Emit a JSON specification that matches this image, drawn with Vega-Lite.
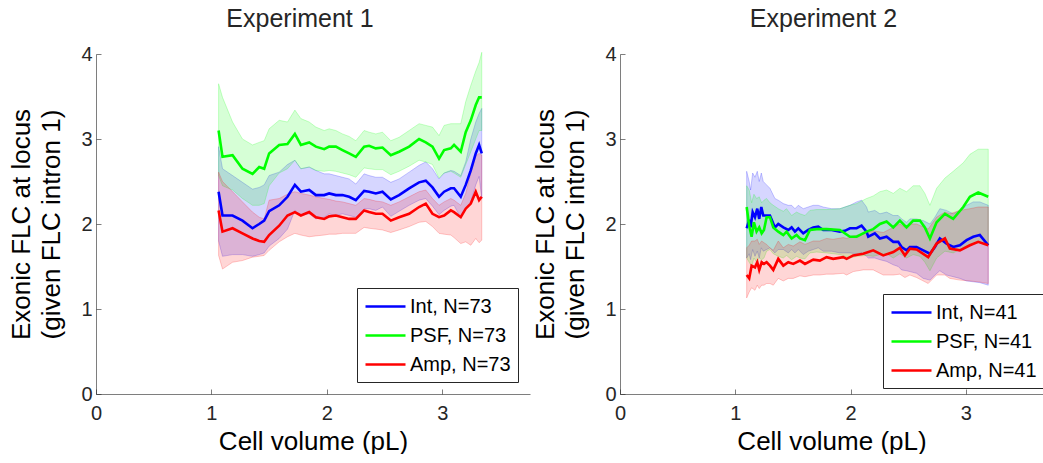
{
  "$schema": "https://vega.github.io/schema/vega-lite/v6.json",
  "padding": {"left": 8, "top": 7, "right": 0, "bottom": 0},
  "spacing": 2,
  "datasets": {
    "e1": [
      {"s":"Int, N=73","x":1.062,"y":2.38,"lo":1.80,"hi":2.91},
      {"s":"Int, N=73","x":1.096,"y":2.10,"lo":1.62,"hi":2.65},
      {"s":"Int, N=73","x":1.183,"y":2.10,"lo":1.64,"hi":2.57},
      {"s":"Int, N=73","x":1.269,"y":2.04,"lo":1.64,"hi":2.49},
      {"s":"Int, N=73","x":1.356,"y":1.95,"lo":1.62,"hi":2.41},
      {"s":"Int, N=73","x":1.414,"y":2.00,"lo":1.64,"hi":2.43},
      {"s":"Int, N=73","x":1.457,"y":2.04,"lo":1.66,"hi":2.46},
      {"s":"Int, N=73","x":1.500,"y":2.15,"lo":1.74,"hi":2.57},
      {"s":"Int, N=73","x":1.587,"y":2.22,"lo":1.83,"hi":2.61},
      {"s":"Int, N=73","x":1.659,"y":2.32,"lo":1.94,"hi":2.70},
      {"s":"Int, N=73","x":1.723,"y":2.46,"lo":2.16,"hi":2.75},
      {"s":"Int, N=73","x":1.775,"y":2.38,"lo":2.10,"hi":2.65},
      {"s":"Int, N=73","x":1.847,"y":2.40,"lo":2.12,"hi":2.67},
      {"s":"Int, N=73","x":1.905,"y":2.34,"lo":2.06,"hi":2.63},
      {"s":"Int, N=73","x":1.977,"y":2.34,"lo":2.08,"hi":2.59},
      {"s":"Int, N=73","x":2.020,"y":2.36,"lo":2.12,"hi":2.59},
      {"s":"Int, N=73","x":2.078,"y":2.34,"lo":2.10,"hi":2.57},
      {"s":"Int, N=73","x":2.135,"y":2.34,"lo":2.12,"hi":2.55},
      {"s":"Int, N=73","x":2.193,"y":2.32,"lo":2.10,"hi":2.53},
      {"s":"Int, N=73","x":2.251,"y":2.28,"lo":2.08,"hi":2.47},
      {"s":"Int, N=73","x":2.323,"y":2.39,"lo":2.18,"hi":2.59},
      {"s":"Int, N=73","x":2.366,"y":2.38,"lo":2.18,"hi":2.57},
      {"s":"Int, N=73","x":2.424,"y":2.36,"lo":2.16,"hi":2.55},
      {"s":"Int, N=73","x":2.482,"y":2.38,"lo":2.20,"hi":2.55},
      {"s":"Int, N=73","x":2.554,"y":2.29,"lo":2.09,"hi":2.49},
      {"s":"Int, N=73","x":2.626,"y":2.34,"lo":2.15,"hi":2.53},
      {"s":"Int, N=73","x":2.713,"y":2.42,"lo":2.22,"hi":2.61},
      {"s":"Int, N=73","x":2.799,"y":2.49,"lo":2.28,"hi":2.69},
      {"s":"Int, N=73","x":2.857,"y":2.51,"lo":2.30,"hi":2.73},
      {"s":"Int, N=73","x":2.915,"y":2.43,"lo":2.21,"hi":2.65},
      {"s":"Int, N=73","x":2.972,"y":2.32,"lo":2.11,"hi":2.53},
      {"s":"Int, N=73","x":3.016,"y":2.38,"lo":2.16,"hi":2.60},
      {"s":"Int, N=73","x":3.074,"y":2.42,"lo":2.21,"hi":2.63},
      {"s":"Int, N=73","x":3.102,"y":2.42,"lo":2.22,"hi":2.62},
      {"s":"Int, N=73","x":3.160,"y":2.32,"lo":2.07,"hi":2.57},
      {"s":"Int, N=73","x":3.203,"y":2.46,"lo":2.18,"hi":2.73},
      {"s":"Int, N=73","x":3.247,"y":2.63,"lo":2.26,"hi":3.00},
      {"s":"Int, N=73","x":3.290,"y":2.83,"lo":2.46,"hi":3.20},
      {"s":"Int, N=73","x":3.319,"y":2.93,"lo":2.56,"hi":3.30},
      {"s":"Int, N=73","x":3.342,"y":2.83,"lo":2.30,"hi":3.36},
      {"s":"PSF, N=73","x":1.062,"y":3.10,"lo":2.57,"hi":3.65},
      {"s":"PSF, N=73","x":1.096,"y":2.79,"lo":2.45,"hi":3.49},
      {"s":"PSF, N=73","x":1.183,"y":2.81,"lo":2.40,"hi":3.20},
      {"s":"PSF, N=73","x":1.269,"y":2.65,"lo":2.30,"hi":3.00},
      {"s":"PSF, N=73","x":1.356,"y":2.59,"lo":2.22,"hi":2.93},
      {"s":"PSF, N=73","x":1.414,"y":2.67,"lo":2.22,"hi":2.96},
      {"s":"PSF, N=73","x":1.457,"y":2.65,"lo":2.24,"hi":2.98},
      {"s":"PSF, N=73","x":1.500,"y":2.83,"lo":2.45,"hi":3.12},
      {"s":"PSF, N=73","x":1.587,"y":2.93,"lo":2.60,"hi":3.22},
      {"s":"PSF, N=73","x":1.659,"y":2.94,"lo":2.65,"hi":3.20},
      {"s":"PSF, N=73","x":1.723,"y":3.06,"lo":2.75,"hi":3.34},
      {"s":"PSF, N=73","x":1.775,"y":2.93,"lo":2.65,"hi":3.24},
      {"s":"PSF, N=73","x":1.847,"y":2.96,"lo":2.67,"hi":3.20},
      {"s":"PSF, N=73","x":1.905,"y":2.91,"lo":2.63,"hi":3.14},
      {"s":"PSF, N=73","x":1.977,"y":2.88,"lo":2.62,"hi":3.10},
      {"s":"PSF, N=73","x":2.020,"y":2.91,"lo":2.63,"hi":3.12},
      {"s":"PSF, N=73","x":2.078,"y":2.91,"lo":2.62,"hi":3.10},
      {"s":"PSF, N=73","x":2.135,"y":2.87,"lo":2.60,"hi":3.06},
      {"s":"PSF, N=73","x":2.193,"y":2.83,"lo":2.58,"hi":3.03},
      {"s":"PSF, N=73","x":2.251,"y":2.79,"lo":2.55,"hi":2.98},
      {"s":"PSF, N=73","x":2.323,"y":2.91,"lo":2.66,"hi":3.10},
      {"s":"PSF, N=73","x":2.366,"y":2.92,"lo":2.65,"hi":3.08},
      {"s":"PSF, N=73","x":2.424,"y":2.89,"lo":2.64,"hi":3.06},
      {"s":"PSF, N=73","x":2.482,"y":2.90,"lo":2.64,"hi":3.08},
      {"s":"PSF, N=73","x":2.554,"y":2.81,"lo":2.58,"hi":2.98},
      {"s":"PSF, N=73","x":2.626,"y":2.85,"lo":2.62,"hi":3.02},
      {"s":"PSF, N=73","x":2.713,"y":2.91,"lo":2.68,"hi":3.10},
      {"s":"PSF, N=73","x":2.799,"y":3.00,"lo":2.75,"hi":3.18},
      {"s":"PSF, N=73","x":2.857,"y":2.96,"lo":2.73,"hi":3.16},
      {"s":"PSF, N=73","x":2.915,"y":2.91,"lo":2.70,"hi":3.14},
      {"s":"PSF, N=73","x":2.972,"y":2.77,"lo":2.54,"hi":3.04},
      {"s":"PSF, N=73","x":3.016,"y":2.87,"lo":2.60,"hi":3.16},
      {"s":"PSF, N=73","x":3.074,"y":2.89,"lo":2.62,"hi":3.18},
      {"s":"PSF, N=73","x":3.102,"y":2.93,"lo":2.60,"hi":3.18},
      {"s":"PSF, N=73","x":3.160,"y":2.85,"lo":2.55,"hi":3.18},
      {"s":"PSF, N=73","x":3.203,"y":3.08,"lo":2.70,"hi":3.44},
      {"s":"PSF, N=73","x":3.247,"y":3.22,"lo":2.85,"hi":3.63},
      {"s":"PSF, N=73","x":3.290,"y":3.40,"lo":3.00,"hi":3.80},
      {"s":"PSF, N=73","x":3.319,"y":3.49,"lo":3.10,"hi":3.90},
      {"s":"PSF, N=73","x":3.342,"y":3.49,"lo":3.10,"hi":4.02},
      {"s":"Amp, N=73","x":1.062,"y":2.16,"lo":1.63,"hi":2.61},
      {"s":"Amp, N=73","x":1.096,"y":1.91,"lo":1.47,"hi":2.50},
      {"s":"Amp, N=73","x":1.183,"y":1.95,"lo":1.55,"hi":2.38},
      {"s":"Amp, N=73","x":1.269,"y":1.89,"lo":1.57,"hi":2.26},
      {"s":"Amp, N=73","x":1.356,"y":1.83,"lo":1.61,"hi":2.14},
      {"s":"Amp, N=73","x":1.414,"y":1.80,"lo":1.62,"hi":2.08},
      {"s":"Amp, N=73","x":1.457,"y":1.79,"lo":1.63,"hi":2.06},
      {"s":"Amp, N=73","x":1.500,"y":1.87,"lo":1.69,"hi":2.28},
      {"s":"Amp, N=73","x":1.587,"y":1.98,"lo":1.79,"hi":2.30},
      {"s":"Amp, N=73","x":1.659,"y":2.10,"lo":1.85,"hi":2.35},
      {"s":"Amp, N=73","x":1.723,"y":2.14,"lo":1.89,"hi":2.38},
      {"s":"Amp, N=73","x":1.775,"y":2.10,"lo":1.87,"hi":2.36},
      {"s":"Amp, N=73","x":1.847,"y":2.14,"lo":1.85,"hi":2.34},
      {"s":"Amp, N=73","x":1.905,"y":2.08,"lo":1.86,"hi":2.32},
      {"s":"Amp, N=73","x":1.977,"y":2.06,"lo":1.87,"hi":2.30},
      {"s":"Amp, N=73","x":2.020,"y":2.09,"lo":1.88,"hi":2.29},
      {"s":"Amp, N=73","x":2.078,"y":2.10,"lo":1.88,"hi":2.27},
      {"s":"Amp, N=73","x":2.135,"y":2.08,"lo":1.89,"hi":2.26},
      {"s":"Amp, N=73","x":2.193,"y":2.06,"lo":1.89,"hi":2.24},
      {"s":"Amp, N=73","x":2.251,"y":2.06,"lo":1.89,"hi":2.22},
      {"s":"Amp, N=73","x":2.323,"y":2.16,"lo":1.96,"hi":2.30},
      {"s":"Amp, N=73","x":2.366,"y":2.14,"lo":1.95,"hi":2.29},
      {"s":"Amp, N=73","x":2.424,"y":2.12,"lo":1.94,"hi":2.27},
      {"s":"Amp, N=73","x":2.482,"y":2.12,"lo":1.93,"hi":2.26},
      {"s":"Amp, N=73","x":2.554,"y":2.04,"lo":1.90,"hi":2.22},
      {"s":"Amp, N=73","x":2.626,"y":2.08,"lo":1.93,"hi":2.26},
      {"s":"Amp, N=73","x":2.713,"y":2.12,"lo":1.97,"hi":2.32},
      {"s":"Amp, N=73","x":2.799,"y":2.20,"lo":2.02,"hi":2.38},
      {"s":"Amp, N=73","x":2.857,"y":2.24,"lo":2.03,"hi":2.40},
      {"s":"Amp, N=73","x":2.915,"y":2.12,"lo":1.97,"hi":2.30},
      {"s":"Amp, N=73","x":2.972,"y":2.08,"lo":1.89,"hi":2.22},
      {"s":"Amp, N=73","x":3.016,"y":2.10,"lo":1.88,"hi":2.26},
      {"s":"Amp, N=73","x":3.074,"y":2.16,"lo":1.87,"hi":2.30},
      {"s":"Amp, N=73","x":3.102,"y":2.14,"lo":1.84,"hi":2.28},
      {"s":"Amp, N=73","x":3.160,"y":2.08,"lo":1.77,"hi":2.22},
      {"s":"Amp, N=73","x":3.203,"y":2.18,"lo":1.79,"hi":2.36},
      {"s":"Amp, N=73","x":3.247,"y":2.24,"lo":1.75,"hi":2.60},
      {"s":"Amp, N=73","x":3.290,"y":2.38,"lo":1.83,"hi":2.80},
      {"s":"Amp, N=73","x":3.319,"y":2.28,"lo":1.78,"hi":2.83},
      {"s":"Amp, N=73","x":3.342,"y":2.32,"lo":1.81,"hi":2.81}
    ],
    "e2": [
      {"s":"Int, N=41","x":1.099,"y":1.95,"lo":1.60,"hi":2.62},
      {"s":"Int, N=41","x":1.121,"y":2.05,"lo":1.65,"hi":2.50},
      {"s":"Int, N=41","x":1.133,"y":1.96,"lo":1.58,"hi":2.40},
      {"s":"Int, N=41","x":1.151,"y":2.14,"lo":1.70,"hi":2.60},
      {"s":"Int, N=41","x":1.171,"y":2.08,"lo":1.62,"hi":2.55},
      {"s":"Int, N=41","x":1.191,"y":2.18,"lo":1.68,"hi":2.62},
      {"s":"Int, N=41","x":1.208,"y":2.06,"lo":1.60,"hi":2.50},
      {"s":"Int, N=41","x":1.226,"y":2.20,"lo":1.72,"hi":2.60},
      {"s":"Int, N=41","x":1.243,"y":2.10,"lo":1.68,"hi":2.50},
      {"s":"Int, N=41","x":1.272,"y":2.10,"lo":1.70,"hi":2.46},
      {"s":"Int, N=41","x":1.301,"y":2.10,"lo":1.72,"hi":2.42},
      {"s":"Int, N=41","x":1.344,"y":1.96,"lo":1.66,"hi":2.30},
      {"s":"Int, N=41","x":1.373,"y":2.00,"lo":1.70,"hi":2.28},
      {"s":"Int, N=41","x":1.417,"y":1.96,"lo":1.70,"hi":2.24},
      {"s":"Int, N=41","x":1.460,"y":1.93,"lo":1.66,"hi":2.22},
      {"s":"Int, N=41","x":1.489,"y":1.96,"lo":1.70,"hi":2.22},
      {"s":"Int, N=41","x":1.518,"y":1.91,"lo":1.66,"hi":2.18},
      {"s":"Int, N=41","x":1.547,"y":1.95,"lo":1.70,"hi":2.22},
      {"s":"Int, N=41","x":1.590,"y":1.89,"lo":1.64,"hi":2.18},
      {"s":"Int, N=41","x":1.633,"y":1.93,"lo":1.68,"hi":2.20},
      {"s":"Int, N=41","x":1.677,"y":1.96,"lo":1.70,"hi":2.22},
      {"s":"Int, N=41","x":1.720,"y":1.97,"lo":1.72,"hi":2.22},
      {"s":"Int, N=41","x":1.763,"y":1.93,"lo":1.68,"hi":2.20},
      {"s":"Int, N=41","x":1.836,"y":1.93,"lo":1.68,"hi":2.18},
      {"s":"Int, N=41","x":1.908,"y":1.91,"lo":1.66,"hi":2.18},
      {"s":"Int, N=41","x":1.951,"y":1.92,"lo":1.66,"hi":2.20},
      {"s":"Int, N=41","x":1.995,"y":1.95,"lo":1.66,"hi":2.22},
      {"s":"Int, N=41","x":2.053,"y":1.95,"lo":1.65,"hi":2.26},
      {"s":"Int, N=41","x":2.096,"y":1.98,"lo":1.66,"hi":2.28},
      {"s":"Int, N=41","x":2.139,"y":1.91,"lo":1.62,"hi":2.20},
      {"s":"Int, N=41","x":2.154,"y":1.85,"lo":1.60,"hi":2.14},
      {"s":"Int, N=41","x":2.211,"y":1.89,"lo":1.60,"hi":2.16},
      {"s":"Int, N=41","x":2.255,"y":1.83,"lo":1.58,"hi":2.12},
      {"s":"Int, N=41","x":2.313,"y":1.85,"lo":1.56,"hi":2.14},
      {"s":"Int, N=41","x":2.371,"y":1.79,"lo":1.52,"hi":2.10},
      {"s":"Int, N=41","x":2.414,"y":1.79,"lo":1.50,"hi":2.10},
      {"s":"Int, N=41","x":2.443,"y":1.73,"lo":1.46,"hi":2.06},
      {"s":"Int, N=41","x":2.486,"y":1.69,"lo":1.45,"hi":2.02},
      {"s":"Int, N=41","x":2.515,"y":1.73,"lo":1.44,"hi":2.06},
      {"s":"Int, N=41","x":2.573,"y":1.73,"lo":1.42,"hi":2.06},
      {"s":"Int, N=41","x":2.631,"y":1.69,"lo":1.36,"hi":2.04},
      {"s":"Int, N=41","x":2.689,"y":1.65,"lo":1.34,"hi":2.00},
      {"s":"Int, N=41","x":2.732,"y":1.73,"lo":1.40,"hi":2.08},
      {"s":"Int, N=41","x":2.775,"y":1.83,"lo":1.45,"hi":2.18},
      {"s":"Int, N=41","x":2.833,"y":1.77,"lo":1.40,"hi":2.16},
      {"s":"Int, N=41","x":2.891,"y":1.73,"lo":1.38,"hi":2.12},
      {"s":"Int, N=41","x":2.949,"y":1.75,"lo":1.36,"hi":2.16},
      {"s":"Int, N=41","x":3.007,"y":1.81,"lo":1.33,"hi":2.22},
      {"s":"Int, N=41","x":3.065,"y":1.85,"lo":1.32,"hi":2.26},
      {"s":"Int, N=41","x":3.122,"y":1.87,"lo":1.31,"hi":2.26},
      {"s":"Int, N=41","x":3.195,"y":1.75,"lo":1.28,"hi":2.22},
      {"s":"PSF, N=41","x":1.099,"y":2.20,"lo":1.60,"hi":2.45},
      {"s":"PSF, N=41","x":1.121,"y":1.98,"lo":1.55,"hi":2.40},
      {"s":"PSF, N=41","x":1.142,"y":1.85,"lo":1.50,"hi":2.25},
      {"s":"PSF, N=41","x":1.162,"y":2.02,"lo":1.60,"hi":2.35},
      {"s":"PSF, N=41","x":1.185,"y":1.91,"lo":1.55,"hi":2.30},
      {"s":"PSF, N=41","x":1.208,"y":1.96,"lo":1.60,"hi":2.32},
      {"s":"PSF, N=41","x":1.229,"y":1.89,"lo":1.58,"hi":2.25},
      {"s":"PSF, N=41","x":1.249,"y":1.93,"lo":1.60,"hi":2.28},
      {"s":"PSF, N=41","x":1.272,"y":2.08,"lo":1.68,"hi":2.30},
      {"s":"PSF, N=41","x":1.301,"y":2.08,"lo":1.70,"hi":2.25},
      {"s":"PSF, N=41","x":1.330,"y":1.96,"lo":1.65,"hi":2.22},
      {"s":"PSF, N=41","x":1.373,"y":1.91,"lo":1.62,"hi":2.18},
      {"s":"PSF, N=41","x":1.417,"y":1.87,"lo":1.60,"hi":2.15},
      {"s":"PSF, N=41","x":1.445,"y":1.91,"lo":1.63,"hi":2.18},
      {"s":"PSF, N=41","x":1.489,"y":1.83,"lo":1.58,"hi":2.10},
      {"s":"PSF, N=41","x":1.532,"y":1.87,"lo":1.62,"hi":2.14},
      {"s":"PSF, N=41","x":1.561,"y":1.83,"lo":1.60,"hi":2.12},
      {"s":"PSF, N=41","x":1.605,"y":1.81,"lo":1.59,"hi":2.10},
      {"s":"PSF, N=41","x":1.648,"y":1.93,"lo":1.66,"hi":2.16},
      {"s":"PSF, N=41","x":1.706,"y":1.94,"lo":1.67,"hi":2.17},
      {"s":"PSF, N=41","x":1.792,"y":1.94,"lo":1.66,"hi":2.17},
      {"s":"PSF, N=41","x":1.908,"y":1.93,"lo":1.64,"hi":2.18},
      {"s":"PSF, N=41","x":1.995,"y":1.85,"lo":1.60,"hi":2.22},
      {"s":"PSF, N=41","x":2.053,"y":1.85,"lo":1.62,"hi":2.24},
      {"s":"PSF, N=41","x":2.139,"y":1.91,"lo":1.63,"hi":2.30},
      {"s":"PSF, N=41","x":2.197,"y":1.94,"lo":1.62,"hi":2.33},
      {"s":"PSF, N=41","x":2.255,"y":2.00,"lo":1.64,"hi":2.38},
      {"s":"PSF, N=41","x":2.313,"y":2.03,"lo":1.65,"hi":2.40},
      {"s":"PSF, N=41","x":2.371,"y":1.96,"lo":1.60,"hi":2.36},
      {"s":"PSF, N=41","x":2.428,"y":2.04,"lo":1.65,"hi":2.42},
      {"s":"PSF, N=41","x":2.486,"y":1.96,"lo":1.60,"hi":2.38},
      {"s":"PSF, N=41","x":2.544,"y":2.04,"lo":1.64,"hi":2.45},
      {"s":"PSF, N=41","x":2.602,"y":2.04,"lo":1.62,"hi":2.45},
      {"s":"PSF, N=41","x":2.645,"y":1.96,"lo":1.55,"hi":2.36},
      {"s":"PSF, N=41","x":2.689,"y":1.83,"lo":1.45,"hi":2.22},
      {"s":"PSF, N=41","x":2.747,"y":2.02,"lo":1.60,"hi":2.42},
      {"s":"PSF, N=41","x":2.819,"y":2.12,"lo":1.68,"hi":2.54},
      {"s":"PSF, N=41","x":2.891,"y":2.06,"lo":1.66,"hi":2.62},
      {"s":"PSF, N=41","x":2.978,"y":2.20,"lo":1.72,"hi":2.72},
      {"s":"PSF, N=41","x":3.036,"y":2.32,"lo":1.76,"hi":2.82},
      {"s":"PSF, N=41","x":3.108,"y":2.37,"lo":1.78,"hi":2.88},
      {"s":"PSF, N=41","x":3.195,"y":2.32,"lo":1.76,"hi":2.88},
      {"s":"Amp, N=41","x":1.099,"y":1.40,"lo":1.13,"hi":1.72},
      {"s":"Amp, N=41","x":1.121,"y":1.36,"lo":1.20,"hi":1.75},
      {"s":"Amp, N=41","x":1.142,"y":1.51,"lo":1.25,"hi":1.80},
      {"s":"Amp, N=41","x":1.171,"y":1.49,"lo":1.22,"hi":1.80},
      {"s":"Amp, N=41","x":1.191,"y":1.55,"lo":1.28,"hi":1.82},
      {"s":"Amp, N=41","x":1.208,"y":1.46,"lo":1.24,"hi":1.76},
      {"s":"Amp, N=41","x":1.229,"y":1.55,"lo":1.28,"hi":1.80},
      {"s":"Amp, N=41","x":1.249,"y":1.53,"lo":1.28,"hi":1.78},
      {"s":"Amp, N=41","x":1.272,"y":1.55,"lo":1.30,"hi":1.76},
      {"s":"Amp, N=41","x":1.301,"y":1.51,"lo":1.30,"hi":1.72},
      {"s":"Amp, N=41","x":1.330,"y":1.46,"lo":1.28,"hi":1.69},
      {"s":"Amp, N=41","x":1.373,"y":1.59,"lo":1.36,"hi":1.80},
      {"s":"Amp, N=41","x":1.417,"y":1.51,"lo":1.33,"hi":1.72},
      {"s":"Amp, N=41","x":1.460,"y":1.55,"lo":1.36,"hi":1.76},
      {"s":"Amp, N=41","x":1.503,"y":1.53,"lo":1.36,"hi":1.74},
      {"s":"Amp, N=41","x":1.561,"y":1.57,"lo":1.39,"hi":1.79},
      {"s":"Amp, N=41","x":1.605,"y":1.53,"lo":1.38,"hi":1.76},
      {"s":"Amp, N=41","x":1.677,"y":1.58,"lo":1.40,"hi":1.80},
      {"s":"Amp, N=41","x":1.734,"y":1.57,"lo":1.40,"hi":1.80},
      {"s":"Amp, N=41","x":1.792,"y":1.61,"lo":1.41,"hi":1.83},
      {"s":"Amp, N=41","x":1.850,"y":1.59,"lo":1.41,"hi":1.82},
      {"s":"Amp, N=41","x":1.937,"y":1.61,"lo":1.42,"hi":1.84},
      {"s":"Amp, N=41","x":1.966,"y":1.59,"lo":1.40,"hi":1.83},
      {"s":"Amp, N=41","x":2.024,"y":1.63,"lo":1.44,"hi":1.86},
      {"s":"Amp, N=41","x":2.110,"y":1.65,"lo":1.46,"hi":1.88},
      {"s":"Amp, N=41","x":2.197,"y":1.69,"lo":1.46,"hi":1.92},
      {"s":"Amp, N=41","x":2.284,"y":1.63,"lo":1.40,"hi":1.90},
      {"s":"Amp, N=41","x":2.371,"y":1.67,"lo":1.40,"hi":1.96},
      {"s":"Amp, N=41","x":2.428,"y":1.72,"lo":1.41,"hi":2.00},
      {"s":"Amp, N=41","x":2.472,"y":1.63,"lo":1.37,"hi":1.96},
      {"s":"Amp, N=41","x":2.515,"y":1.71,"lo":1.40,"hi":2.00},
      {"s":"Amp, N=41","x":2.573,"y":1.70,"lo":1.37,"hi":2.00},
      {"s":"Amp, N=41","x":2.674,"y":1.61,"lo":1.30,"hi":1.94},
      {"s":"Amp, N=41","x":2.747,"y":1.77,"lo":1.40,"hi":2.08},
      {"s":"Amp, N=41","x":2.819,"y":1.83,"lo":1.40,"hi":2.14},
      {"s":"Amp, N=41","x":2.862,"y":1.71,"lo":1.36,"hi":2.12},
      {"s":"Amp, N=41","x":2.949,"y":1.69,"lo":1.34,"hi":2.16},
      {"s":"Amp, N=41","x":3.036,"y":1.75,"lo":1.33,"hi":2.18},
      {"s":"Amp, N=41","x":3.108,"y":1.79,"lo":1.32,"hi":2.20},
      {"s":"Amp, N=41","x":3.195,"y":1.75,"lo":1.30,"hi":2.20}
    ]
  },
  "hconcat": [
    {
      "width": 434,
      "height": 340,
      "title": {"text": "Experiment 1", "dx": -13},
      "data": {"name": "e1"},
      "layer": [
        {
          "mark": {"type": "area", "fillOpacity": 0.16, "strokeOpacity": 0.3, "strokeWidth": 0.7},
          "encoding": {
            "x": {"field": "x", "type": "quantitative", "scale": {"domain": [0, 3.76], "nice": false}, "axis": {"values": [0, 1, 2, 3], "title": "Cell volume (pL)"}},
            "y": {"field": "lo", "type": "quantitative", "scale": {"domain": [0, 4], "nice": false}, "axis": {"values": [0, 1, 2, 3, 4], "title": ["Exonic FLC at locus", "(given FLC intron 1)"]}},
            "y2": {"field": "hi"},
            "fill": {"field": "s", "type": "nominal", "scale": {"domain": ["Int, N=73", "PSF, N=73", "Amp, N=73"], "range": ["#0000ff", "#00ff00", "#ff0000"]}, "legend": {"orient": "bottom-right", "offset": 12, "title": null}},
            "stroke": {"field": "s", "type": "nominal", "scale": {"domain": ["Int, N=73", "PSF, N=73", "Amp, N=73"], "range": ["#0000ff", "#00ff00", "#ff0000"]}, "legend": {"orient": "bottom-right", "offset": 12, "title": null}}
          }
        },
        {
          "mark": {"type": "line", "strokeWidth": 2.6},
          "encoding": {
            "x": {"field": "x", "type": "quantitative"},
            "y": {"field": "y", "type": "quantitative"},
            "stroke": {"field": "s", "type": "nominal", "legend": {"orient": "bottom-right", "offset": 12, "title": null}}
          }
        }
      ]
    },
    {
      "width": 423,
      "height": 340,
      "title": {"text": "Experiment 2", "dx": -8},
      "data": {"name": "e2"},
      "layer": [
        {
          "mark": {"type": "area", "fillOpacity": 0.16, "strokeOpacity": 0.3, "strokeWidth": 0.7},
          "encoding": {
            "x": {"field": "x", "type": "quantitative", "scale": {"domain": [0, 3.67], "nice": false}, "axis": {"values": [0, 1, 2, 3], "title": "Cell volume (pL)"}},
            "y": {"field": "lo", "type": "quantitative", "scale": {"domain": [0, 4], "nice": false}, "axis": {"values": [0, 1, 2, 3, 4], "title": ["Exonic FLC at locus", "(given FLC intron 1)"]}},
            "y2": {"field": "hi"},
            "fill": {"field": "s", "type": "nominal", "scale": {"domain": ["Int, N=41", "PSF, N=41", "Amp, N=41"], "range": ["#0000ff", "#00ff00", "#ff0000"]}, "legend": {"orient": "none", "legendX": 263, "legendY": 240, "title": null}},
            "stroke": {"field": "s", "type": "nominal", "scale": {"domain": ["Int, N=41", "PSF, N=41", "Amp, N=41"], "range": ["#0000ff", "#00ff00", "#ff0000"]}, "legend": {"orient": "none", "legendX": 263, "legendY": 240, "title": null}}
          }
        },
        {
          "mark": {"type": "line", "strokeWidth": 2.6},
          "encoding": {
            "x": {"field": "x", "type": "quantitative"},
            "y": {"field": "y", "type": "quantitative"},
            "stroke": {"field": "s", "type": "nominal", "legend": {"orient": "none", "legendX": 263, "legendY": 240, "title": null}}
          }
        }
      ]
    }
  ],
  "resolve": {"scale": {"fill": "independent", "stroke": "independent"}, "legend": {"fill": "independent", "stroke": "independent"}},
  "config": {
    "font": "Liberation Sans",
    "view": {"stroke": null},
    "title": {"fontSize": 25, "fontWeight": "normal", "color": "#262626", "offset": 12, "font": "Liberation Sans"},
    "axis": {
      "grid": false,
      "format": "d",
      "labelFlush": false,
      "domainColor": "#262626",
      "domainWidth": 0.6,
      "tickColor": "#262626",
      "tickWidth": 0.6,
      "tickSize": -5,
      "labelFontSize": 20,
      "labelColor": "#262626",
      "labelFont": "Liberation Sans",
      "titleFontSize": 26,
      "titleFontWeight": "normal",
      "titleColor": "#000000",
      "titleFont": "Liberation Sans",
      "titleLineHeight": 30
    },
    "axisX": {"labelPadding": 14, "titlePadding": 5},
    "axisY": {"labelPadding": 9, "titlePadding": 16},
    "legend": {
      "symbolType": "M-1,0H3",
      "symbolSize": 400,
      "symbolStrokeWidth": 2.5,
      "symbolOpacity": 1,
      "symbolFillColor": "transparent",
      "labelFontSize": 20,
      "labelColor": "#000000",
      "labelFont": "Liberation Sans",
      "labelOffset": 23,
      "strokeColor": "#262626",
      "fillColor": "#ffffff",
      "padding": 7,
      "rowPadding": 7,
      "cornerRadius": 0
    }
  }
}
